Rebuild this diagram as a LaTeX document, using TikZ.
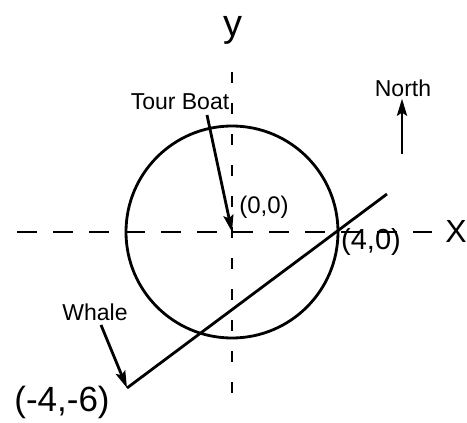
\documentclass[tikz,border=0pt]{standalone}
\usepackage{fontspec}
\setmainfont{Liberation Sans}
\usetikzlibrary{arrows.meta}
\begin{document}
\begin{tikzpicture}[x=1pt,y=-1pt,
  axisline/.style={line width=2.6pt, dash pattern=on 20pt off 16pt},
  vaxisline/.style={line width=2.4pt, dash pattern=on 11pt off 20pt},
  thick line/.style={line width=2.8pt},
  pointer/.style={line width=2.8pt, -{Stealth[length=17pt,width=10pt,inset=3pt]}},
  label/.style={font=\fontsize{23}{26}\selectfont, inner sep=0pt},
  hand/.style={font=\fontsize{30}{34}\selectfont, inner sep=0pt}]
\useasboundingbox (0,0) rectangle (467,423);
\fill[white] (0,0) rectangle (467,423);
\coordinate (O) at (232,232);
\coordinate (XL) at (17,232);
\coordinate (XR) at (432,232);
\coordinate (YT) at (232,72);
\coordinate (YB) at (232,405);
\node[hand, font=\fontsize{32}{36}\selectfont] (xlab) at (456,231) {X};
\node[hand, font=\fontsize{38}{42}\selectfont] (ylab) at (233,30) {y};
% axes
\draw[axisline] (XL) -- (XR);
\draw[vaxisline] (YT) -- (YB);
% circle
\draw[thick line] (O) circle (106);
% line through (4,0)
\coordinate (W) at (127,388);
\coordinate (E) at (387,194);
\draw[thick line] (W) -- (E);
% labels
\node[label] (tour) at (180,102) {Tour Boat};
\node[label] (north) at (403,88) {North};
\node[label] (whale) at (95,312) {Whale};
\node[hand, font=\fontsize{24}{28}\selectfont] (p00) at (264,207) {(0,0)};
\node[hand, font=\fontsize{29}{32}\selectfont] (p40) at (371,242) {(4,0)};
\node[hand, font=\fontsize{35}{40}\selectfont] (p46) at (62,402) {(-4,-6)};
% arrows
\coordinate (tourstart) at (207,115);
\coordinate (whalestart) at (101,325);
\coordinate (northstart) at (402,154);
\draw[pointer] (tourstart) -- (O);
\draw[pointer] (whalestart) -- (W);
\draw[pointer] (northstart) -- ([yshift=-2pt]north.south -| northstart);
\end{tikzpicture}
\end{document}
